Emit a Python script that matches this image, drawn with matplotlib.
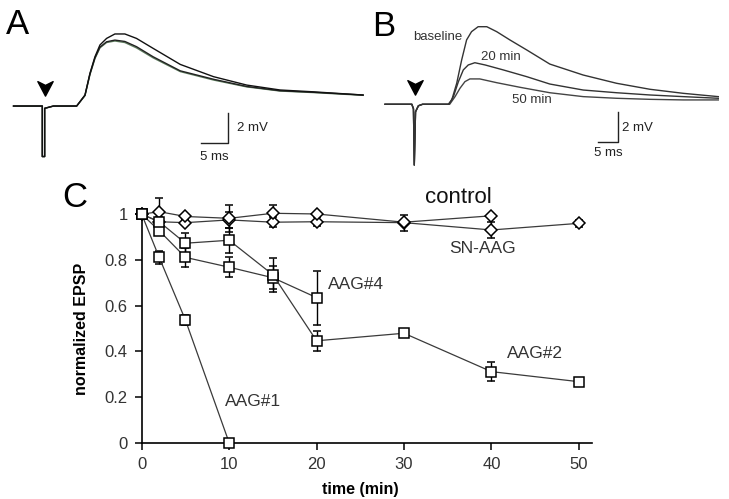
import numpy as np
import matplotlib.pyplot as plt
from matplotlib.path import Path

plt.rcParams["font.family"] = ["Liberation Sans", "DejaVu Sans"]

# ---- panel A traces (ms, mV) ----
A_T = [-5.2, 0, 0, 0.42, 0.42, 2.0, 6.2, 7.7, 8.6, 9.5, 10.4, 11.6, 13.1, 14.9, 17.0,
       20.0, 24.9, 30.9, 36.9, 42.9, 48.9, 57.9]
A_V_TOP = [0, 0, -3.3, -3.3, -0.15, 0, 0, 0.72, 2.14, 3.22, 3.99, 4.42, 4.71, 4.71, 4.42,
           3.77, 2.72, 1.92, 1.37, 1.05, 0.93, 0.72]
A_V_MID = [0, 0, -3.3, -3.3, -0.15, 0, 0, 0.70, 2.10, 3.15, 3.85, 4.20, 4.31, 4.22, 3.88,
           3.22, 2.30, 1.75, 1.28, 1.00, 0.90, 0.72]
A_V_LOW = [0, 0, -3.3, -3.3, -0.15, 0, 0, 0.68, 2.05, 3.10, 3.80, 4.15, 4.25, 4.15, 3.80,
           3.15, 2.25, 1.70, 1.25, 0.98, 0.88, 0.70]

# ---- panel B traces (ms, mV) ----
B_T_BASE = [-7.1, -0.6, -0.2, 0, 0.3, 1.0, 2.0, 8.25, 9.1, 10.3, 11.5, 12.7, 13.9, 15.5,
            17.6, 20.0, 23.2, 27.3, 32.9, 41.0, 49.1, 57.2, 65.3, 73.8]
B_V_BASE = [0, 0, -0.3, -4.05, -0.5, -0.1, 0, 0, 0.29, 1.4, 2.95, 4.29, 4.84, 5.17,
            5.17, 4.84, 4.29, 3.62, 2.68, 1.95, 1.4, 1.0, 0.73, 0.51]
B_T_20 = [-7.1, -0.6, -0.2, 0, 0.3, 1.0, 2.0, 8.4, 9.5, 10.7, 11.9, 13.1, 14.7, 17.2,
          21.6, 27.3, 32.9, 41.0, 49.1, 57.2, 65.3, 73.8]
B_V_20 = [0, 0, -0.3, -4.05, -0.5, -0.1, 0, 0, 0.51, 1.5, 2.29, 2.62, 2.77, 2.62,
          2.29, 1.84, 1.35, 0.95, 0.77, 0.62, 0.51, 0.4]
B_T_50 = [-7.1, -0.6, -0.2, 0, 0.3, 1.0, 2.0, 8.6, 9.9, 11.1, 12.3, 13.5, 15.9, 20.0,
          25.7, 32.9, 41.0, 49.1, 57.2, 65.3, 73.8]
B_V_50 = [0, 0, -0.3, -4.05, -0.5, -0.1, 0, 0, 0.51, 1.07, 1.51, 1.69, 1.69, 1.44,
          1.13, 0.77, 0.51, 0.4, 0.33, 0.29, 0.29]

# ---- panel C: normalized EPSP vs time ----
T_AAG1 = [0, 2, 5, 10]
Y_AAG1 = [1, 0.811, 0.537, 0]
E_AAG1 = [0, 0.03, 0.02, 0]

T_AAG2 = [0, 2, 5, 10, 15, 20, 30, 40, 50]
Y_AAG2 = [1, 0.967, 0.873, 0.886, 0.735, 0.446, 0.479, 0.311, 0.267]
E_AAG2 = [0, 0.02, 0.045, 0.055, 0.075, 0.045, 0.01, 0.04, 0.01]

T_AAG4 = [0, 2, 5, 10, 15, 20]
Y_AAG4 = [1, 0.928, 0.811, 0.768, 0.722, 0.635]
E_AAG4 = [0, 0.02, 0.04, 0.045, 0.05, 0.118]

T_CTRL = [0, 2, 5, 10, 15, 20, 30, 40]
Y_CTRL = [1, 1.011, 0.99, 0.982, 1.004, 1.001, 0.965, 0.993]
E_CTRL = [0, 0.058, 0.01, 0.06, 0.035, 0.01, 0.01, 0.01]

T_SN = [0, 2, 5, 10, 15, 20, 30, 40, 50]
Y_SN = [1, 0.967, 0.963, 0.975, 0.965, 0.967, 0.963, 0.931, 0.96]
E_SN = [0, 0.01, 0.01, 0.035, 0.022, 0.02, 0.035, 0.035, 0.015]

W, H = 729, 499
fig = plt.figure(figsize=(W / 100, H / 100), dpi=100)

arrow = Path([(0, -1), (-1, 0.9), (0, 0.4), (1, 0.9), (0, -1)],
             [Path.MOVETO, Path.LINETO, Path.LINETO, Path.LINETO, Path.CLOSEPOLY])


def px_axes(x0, y0, x1, y1):
    return fig.add_axes([x0 / W, 1 - y1 / H, (x1 - x0) / W, (y1 - y0) / H])


def scale_bar(ax, x, y, dx, dy, color):
    ax.plot([x - dx, x, x], [y, y, y + dy], color=color, lw=1.0)


# panel A
axA = px_axes(0, 0, 370, 170)
axA.set_xlim(-7.64, 59.15)
axA.set_ylim(-4.18, 6.93)
axA.axis("off")
axA.plot(A_T, A_V_LOW, color="#5e7d5e", lw=1.0)
axA.plot(A_T, A_V_MID, color="#222222", lw=1.0)
axA.plot(A_T, A_V_TOP, color="#111111", lw=1.0)
axA.plot([0.5], [1.2], marker=arrow, ms=11, color="black", ls="none")
scale_bar(axA, 33.6, -2.44, 5, 2, "#222222")
axA.text(35.2, -1.44, "2 mV", fontsize=9.5, ha="left", va="center", color="#222222")
axA.text(31.1, -3.3, "5 ms", fontsize=9.5, ha="center", va="center", color="#222222")
fig.text(17 / W, 1 - 24 / H, "A", fontsize=25, ha="center", va="center")

# panel B
axB = px_axes(370, 0, 729, 170)
axB.set_xlim(-10.75, 76.4)
axB.set_ylim(-4.38, 6.95)
axB.axis("off")
axB.plot(B_T_50, B_V_50, color="#444444", lw=1.0)
axB.plot(B_T_20, B_V_20, color="#333333", lw=1.0)
axB.plot(B_T_BASE, B_V_BASE, color="#333333", lw=1.0)
axB.plot([0.2], [1.15], marker=arrow, ms=11, color="black", ls="none")
scale_bar(axB, 49.5, -2.49, 5, 2, "#222222")
axB.text(50.4, -1.6, "2 mV", fontsize=9.5, ha="left", va="center", color="#222222")
axB.text(47.2, -3.23, "5 ms", fontsize=9.5, ha="center", va="center", color="#222222")
axB.text(5.8, 4.5, "baseline", fontsize=9.5, ha="center", va="center", color="#333333")
axB.text(21.0, 3.15, "20 min", fontsize=9.5, ha="center", va="center", color="#333333")
axB.text(28.6, 0.28, "50 min", fontsize=9.5, ha="center", va="center", color="#333333")
fig.text(384 / W, 1 - 26 / H, "B", fontsize=25, ha="center", va="center")

# panel C
axC = px_axes(141.7, 214.2, 592, 442.7)
axC.set_xlim(0, 51.5)
axC.set_ylim(0, 1)

series = [
    (T_SN, Y_SN, E_SN, "D", 6),
    (T_CTRL, Y_CTRL, E_CTRL, "D", 6),
    (T_AAG1, Y_AAG1, E_AAG1, "s", 7.5),
    (T_AAG4, Y_AAG4, E_AAG4, "s", 7.5),
    (T_AAG2, Y_AAG2, E_AAG2, "s", 7.5),
]
for t, y, e, m, ms in series:
    axC.errorbar(t, y, yerr=e, fmt="-", color="#3a3a3a", lw=0.9, marker=m, ms=ms,
                 mfc="white", mec="black", mew=1.1, ecolor="black", elinewidth=1.0,
                 capsize=3, capthick=1.0, clip_on=False, zorder=3)

for side in ["top", "right"]:
    axC.spines[side].set_visible(False)
for side in ["left", "bottom"]:
    axC.spines[side].set_linewidth(1.2)
axC.set_xticks([0, 10, 20, 30, 40, 50])
axC.set_yticks([0, 0.2, 0.4, 0.6, 0.8, 1])
axC.set_yticklabels(["0", "0.2", "0.4", "0.6", "0.8", "1"])
axC.tick_params(direction="out", length=5, width=1.1, labelsize=12,
                labelcolor="#333333", pad=5)
axC.set_ylabel("normalized EPSP", fontsize=11.5, fontweight="bold")
axC.yaxis.set_label_coords(-0.117, 0.5)
axC.set_xlabel("time (min)", fontsize=11.5, fontweight="bold")
axC.xaxis.set_label_coords(0.485, -0.171)

axC.text(36.2, 1.075, "control", fontsize=16, ha="center", va="center", color="#111111")
axC.text(39.0, 0.849, "SN-AAG", fontsize=12.5, ha="center", va="center", color="#333333")
axC.text(24.5, 0.693, "AAG#4", fontsize=12.5, ha="center", va="center", color="#333333")
axC.text(45.0, 0.392, "AAG#2", fontsize=12.5, ha="center", va="center", color="#333333")
axC.text(12.7, 0.180, "AAG#1", fontsize=12.5, ha="center", va="center", color="#333333")
fig.text(75 / W, 1 - 197.5 / H, "C", fontsize=25, ha="center", va="center")

fig.savefig("out.png", dpi=100)
